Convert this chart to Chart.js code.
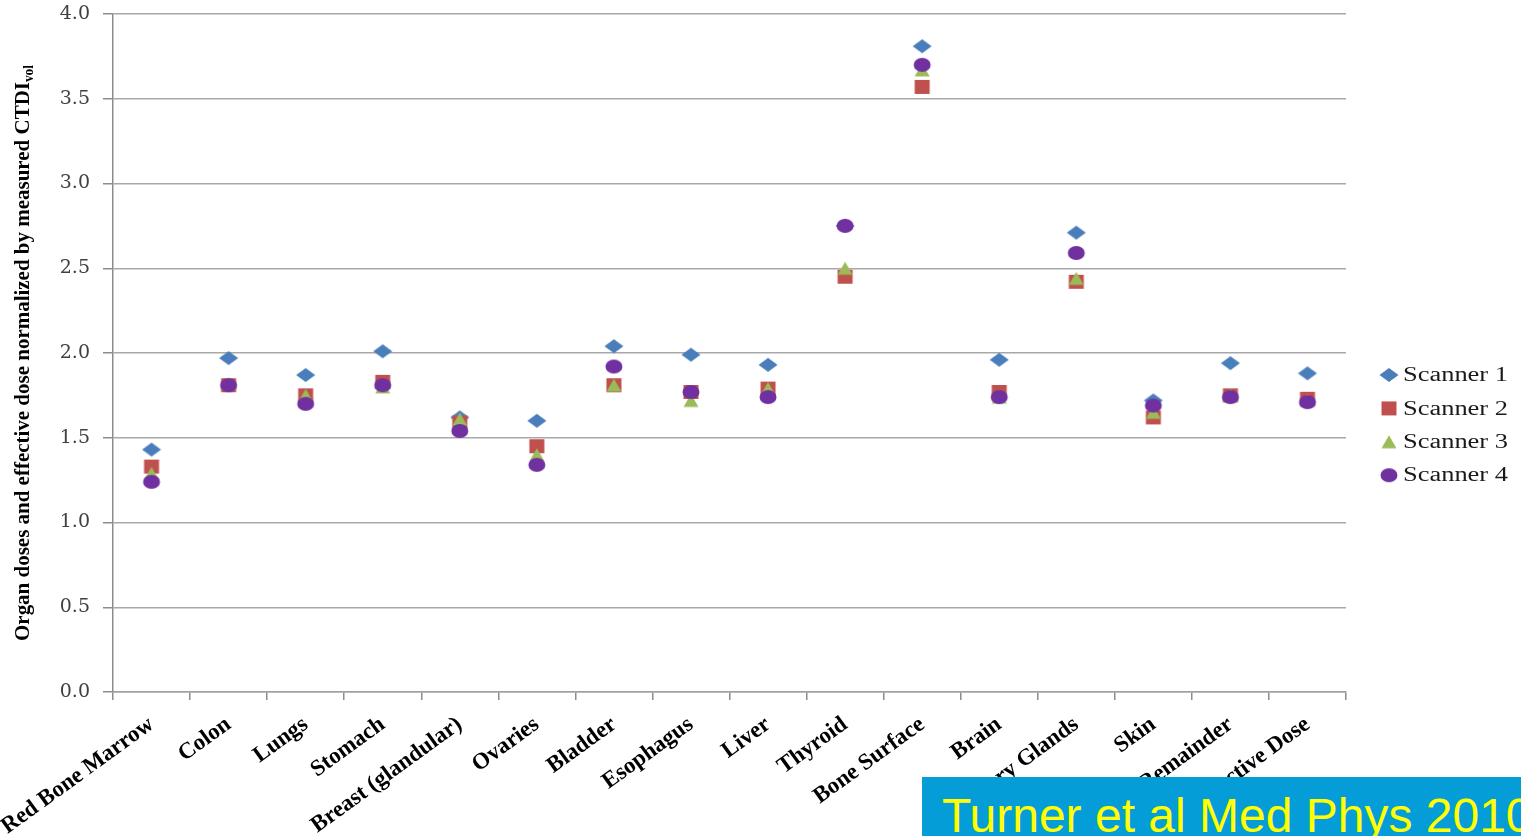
<!DOCTYPE html>
<html><head><meta charset="utf-8">
<script src="https://cdn.jsdelivr.net/npm/chart.js@4.4.1/dist/chart.umd.min.js"></script>
<style>
html,body{margin:0;padding:0;background:#fff;overflow:hidden;}
#wrap{position:relative;width:1521px;height:836px;}
canvas{display:block;}
#cite{position:absolute;left:922px;top:777px;width:599px;height:59px;background:#049DD7;overflow:hidden;}
#cite span{position:absolute;left:20px;top:15px;font-family:"Liberation Sans",Arial,sans-serif;font-size:48px;line-height:48px;color:#FFFF00;white-space:nowrap;}
</style></head><body>
<div id="wrap"><canvas id="c" width="1521" height="836"></canvas><div id="cite"><span>Turner et al Med Phys 2010</span></div></div>
<script>
const categories = ["Red Bone Marrow","Colon","Lungs","Stomach","Breast (glandular)","Ovaries","Bladder","Esophagus","Liver","Thyroid","Bone Surface","Brain","Salivary Glands","Skin","Remainder","Effective Dose"];
const seriesNames = ["Scanner 1","Scanner 2","Scanner 3","Scanner 4"];
const scanner1 = [1.43,1.97,1.87,2.01,1.62,1.60,2.04,1.99,1.93,2.75,3.81,1.96,2.71,1.72,1.94,1.88];
const scanner2 = [1.33,1.81,1.75,1.83,1.59,1.45,1.81,1.77,1.79,2.45,3.57,1.77,2.42,1.62,1.75,1.73];
const scanner3 = [1.29,1.82,1.75,1.80,1.61,1.40,1.81,1.72,1.79,2.50,3.67,1.74,2.44,1.65,1.75,1.72];
const scanner4 = [1.24,1.81,1.70,1.81,1.54,1.34,1.92,1.77,1.74,2.75,3.70,1.74,2.59,1.69,1.74,1.71];
const yTickLabels = ["0.0","0.5","1.0","1.5","2.0","2.5","3.0","3.5","4.0"];
const yTitleMain = "Organ doses and effective dose normalized by measured CTDI";
const yTitleSub = "vol";

function marker(kind, color){
  const c = document.createElement('canvas');
  c.width = 20; c.height = 16;
  const g = c.getContext('2d');
  g.fillStyle = color;
  g.beginPath();
  if(kind==='diamond'){ g.moveTo(0.5,8); g.lineTo(10,1); g.lineTo(19.5,8); g.lineTo(10,15); g.closePath(); }
  else if(kind==='square'){ g.rect(2.5,1,15,14); }
  else if(kind==='triangle'){ g.moveTo(10,1.5); g.lineTo(17.5,14.5); g.lineTo(2.5,14.5); g.closePath(); }
  else { g.ellipse(10,8,8.5,7,0,0,Math.PI*2); }
  g.fill();
  return c;
}
const styles = [marker('diamond','#4A7EBB'), marker('square','#C0504D'), marker('triangle','#9BBB59'), marker('ellipse','#7030A0')];
const values = [scanner1, scanner2, scanner3, scanner4];

const yTitlePlugin = {
  id:'yTitle',
  afterDraw(chart){
    const ctx = chart.ctx, a = chart.chartArea;
    ctx.save();
    ctx.font = 'bold 22px "Liberation Serif"';
    const wMain = ctx.measureText(yTitleMain).width;
    ctx.font = 'bold 14px "Liberation Serif"';
    const wSub = ctx.measureText(yTitleSub).width;
    const mid = (a.top + a.bottom)/2, len = 576;
    const sx = len/(wMain + wSub);
    ctx.translate(29, mid + len/2);
    ctx.rotate(-Math.PI/2);
    ctx.scale(sx,1);
    ctx.fillStyle = '#000';
    ctx.textBaseline = 'alphabetic';
    ctx.font = 'bold 22px "Liberation Serif"';
    ctx.fillText(yTitleMain, 0, 0);
    ctx.font = 'bold 14px "Liberation Serif"';
    ctx.fillText(yTitleSub, wMain, 4);
    ctx.restore();
  }
};
const legendPlugin = {
  id:'sideLegend',
  afterDraw(chart){
    const ctx = chart.ctx, a = chart.chartArea;
    ctx.save();
    chart.data.datasets.forEach((ds,i)=>{
      const y = 375 + i*33.4;
      const img = ds.pointStyle;
      ctx.drawImage(img, a.right + 43 - img.width/2, y - img.height/2);
      ctx.save();
      ctx.font = '20px "Liberation Serif"';
      ctx.fillStyle = '#1a1a1a';
      ctx.textBaseline = 'middle';
      const w = ctx.measureText(ds.label).width;
      ctx.translate(a.right + 57, y + 1);
      ctx.scale(105/w, 1);
      ctx.fillText(ds.label, 0, 0);
      ctx.restore();
    });
    ctx.restore();
  }
};

new Chart(document.getElementById('c'), {
  type:'line',
  data:{
    labels: categories,
    datasets: seriesNames.map((n,i)=>({
      label:n, data: values[i], showLine:false,
      pointStyle: styles[i], pointRadius: 9, pointHoverRadius: 9,
      backgroundColor: 'transparent', borderColor: 'transparent',
      order: 4 - i
    }))
  },
  options:{
    responsive:false, devicePixelRatio:1, animation:false,
    layout:{padding:{left:0, top:14, right:175, bottom:0}},
    plugins:{legend:{display:false}, tooltip:{enabled:false}},
    scales:{
      x:{
        offset:true,
        grid:{display:true, drawOnChartArea:false, drawTicks:true, tickLength:8, offset:true, color:'#8C8C8C', lineWidth:1.5},
        border:{display:true, color:'#A0A0A0', width:1.5},
        ticks:{autoSkip:false, minRotation:36, maxRotation:36, padding:11, color:'#000',
          font:{family:'"Liberation Serif"', size:23, weight:'bold'}},
        afterFit(s){ s.height = 144; s.paddingLeft = 0; s.paddingRight = 0; }
      },
      y:{
        min:0, max:4,
        ticks:{stepSize:0.5, padding:13, color:'#404040',
          font:{family:'"DejaVu Serif"', size:19},
          callback:(v)=>yTickLabels[Math.round(v*2)]},
        grid:{color:'#A8A8A8', lineWidth:1.5, drawTicks:true, tickLength:10, tickColor:'#8C8C8C'},
        border:{display:true, color:'#8C8C8C', width:1.5},
        afterFit(s){ s.width = 113; s.paddingTop = 0; s.paddingBottom = 0; }
      }
    }
  },
  plugins:[yTitlePlugin, legendPlugin]
});
</script>
</body></html>
